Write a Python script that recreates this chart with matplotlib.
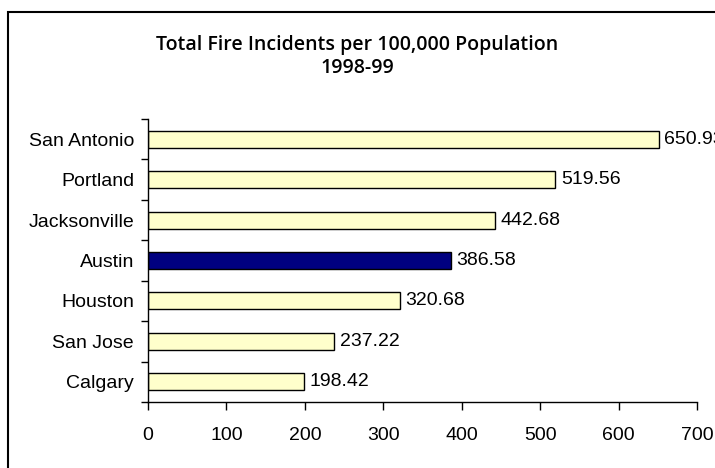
import matplotlib
matplotlib.use("Agg")
import matplotlib.pyplot as plt
from matplotlib.patches import Rectangle

cities = ["Calgary", "San Jose", "Houston", "Austin", "Jacksonville", "Portland", "San Antonio"]
values = [198.42, 237.22, 320.68, 386.58, 442.68, 519.56, 650.93]
highlight = "Austin"
x_ticks = [0, 100, 200, 300, 400, 500, 600, 700]
title_lines = ["Total Fire Incidents per 100,000 Population", "1998-99"]

plt.rcParams['font.family'] = ['Liberation Sans', 'DejaVu Sans']

fig = plt.figure(figsize=(7.15, 4.68), dpi=100)
ax = fig.add_axes([148/715, 66/468, 549/715, 283/468])

colors = ["#000080" if c == highlight else "#FFFFCC" for c in cities]
y = list(range(len(cities)))
ax.barh(y, values, height=0.42, color=colors, edgecolor="black", linewidth=1.0)
for yi, v in zip(y, values):
    ax.text(v + 7, yi, f"{v:.2f}", va="center", ha="left", fontsize=14, clip_on=False)

ax.set_xlim(0, 700)
ax.set_ylim(-0.5, len(cities) - 0.5)
ax.set_xticks(x_ticks)
ax.set_xticklabels([str(t) for t in x_ticks], fontsize=14)
ax.set_yticks(y)
ax.set_yticklabels(cities, fontsize=14)
ax.set_yticks([i - 0.5 for i in range(len(cities) + 1)], minor=True)
ax.tick_params(axis="y", which="major", length=0, pad=10)
ax.tick_params(axis="y", which="minor", length=5, width=1, direction="out")
ax.tick_params(axis="x", length=6, width=1, direction="out", pad=12)
for s in ["top", "right"]:
    ax.spines[s].set_visible(False)
for s in ["left", "bottom"]:
    ax.spines[s].set_linewidth(1.0)

title_family = ['Open Sans', 'Liberation Sans', 'DejaVu Sans']
fig.text(357/715, 1 - 45/468, title_lines[0], ha="center", va="center", fontsize=14,
         family=title_family, fontweight="semibold")
fig.text(357/715, 1 - 68/468, title_lines[1], ha="center", va="center", fontsize=14,
         family=title_family, fontweight="semibold")

frame = Rectangle((8/715, -0.1), 1.2, (1 - 12/468) + 0.1, transform=fig.transFigure,
                  fill=False, edgecolor="black", linewidth=1.5, clip_on=False)
fig.patches.append(frame)

fig.savefig("out.png", dpi=100)
